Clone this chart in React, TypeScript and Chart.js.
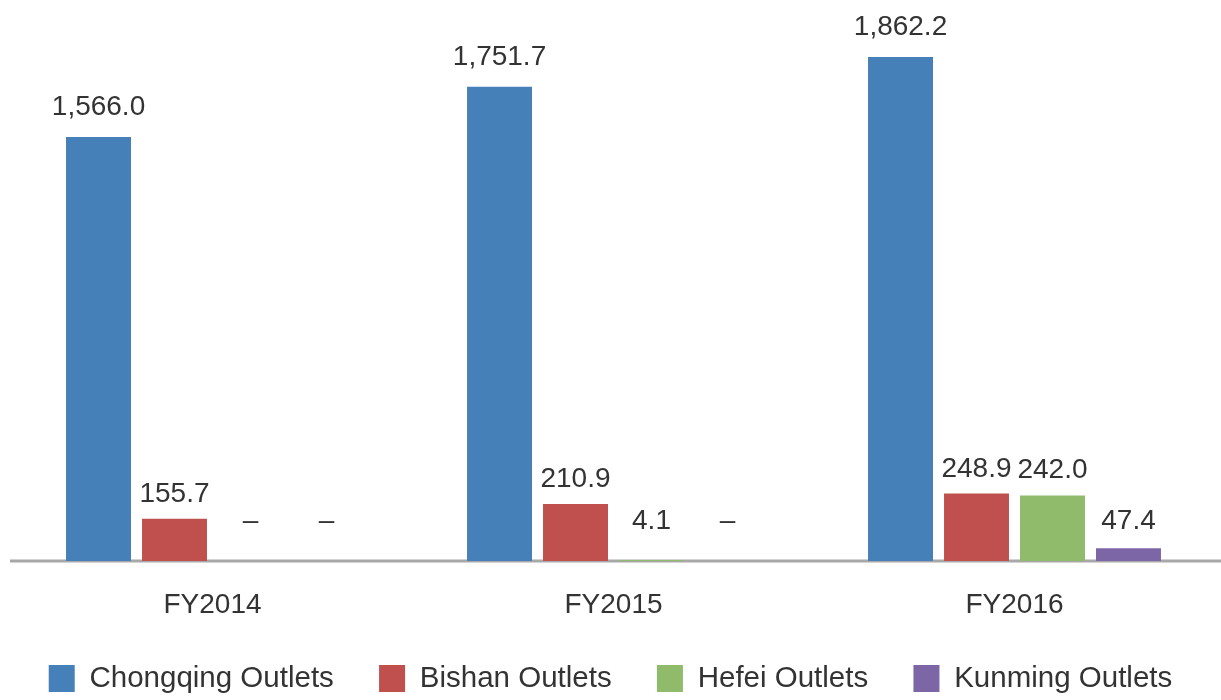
import React, { useEffect, useRef } from "react";
import { Chart, registerables } from "chart.js";

Chart.register(...registerables);

const categories = ["FY2014", "FY2015", "FY2016"];
const seriesNames = ["Chongqing Outlets", "Bishan Outlets", "Hefei Outlets", "Kunming Outlets"];
const chongqing: (number | null)[] = [1566.0, 1751.7, 1862.2];
const bishan: (number | null)[] = [155.7, 210.9, 248.9];
const hefei: (number | null)[] = [null, 4.1, 242.0];
const kunming: (number | null)[] = [null, null, 47.4];
const seriesColors = ["#4680B8", "#C0504D", "#8FBB6A", "#7C66A6"];

const FONT = "'Liberation Sans', Arial, Helvetica, sans-serif";
const TEXT_COLOR = "#333333";

const labelPlugin = {
  id: "valueLabels",
  beforeDatasetsDraw(chart: any) {
    const { ctx, chartArea } = chart;
    const yScale = chart.scales.y;
    const base = yScale.getPixelForValue(0);
    ctx.save();
    ctx.strokeStyle = "#A8A8A8";
    ctx.lineWidth = 3;
    ctx.beginPath();
    ctx.moveTo(chartArea.left - 2, base);
    ctx.lineTo(chart.width, base);
    ctx.stroke();
    ctx.restore();
  },
  afterDatasetsDraw(chart: any) {
    const { ctx } = chart;
    const yScale = chart.scales.y;
    const base = yScale.getPixelForValue(0);
    ctx.save();
    ctx.font = `28px ${FONT}`;
    ctx.fillStyle = TEXT_COLOR;
    ctx.textAlign = "center";
    ctx.textBaseline = "alphabetic";
    chart.data.datasets.forEach((ds: any, di: number) => {
      const meta = chart.getDatasetMeta(di);
      meta.data.forEach((el: any, i: number) => {
        const v = ds.data[i];
        if (v === null || v === undefined) {
          ctx.fillText("\u2013", el.x, base - 15 - 17);
        } else {
          const top = yScale.getPixelForValue(v);
          const txt = Number(v).toLocaleString("en-US", {
            minimumFractionDigits: 1,
            maximumFractionDigits: 1,
          });
          const gap = v > 1000 ? 22 : 17;
          ctx.fillText(txt, el.x, Math.min(top, base - 15) - gap);
        }
      });
    });
    ctx.restore();
  },
};

export default function App() {
  const ref = useRef<HTMLCanvasElement | null>(null);
  useEffect(() => {
    document.body.style.margin = "0";
    if (!ref.current) return;
    const seriesData = [chongqing, bishan, hefei, kunming];
    const chart = new Chart(ref.current, {
      type: "bar",
      data: {
        labels: categories,
        datasets: seriesNames.map((name, i) => ({
          label: name,
          data: seriesData[i],
          backgroundColor: seriesColors[i],
          borderWidth: 0,
          categoryPercentage: 0.758,
          barPercentage: 0.855,
        })),
      },
      options: {
        animation: false,
        responsive: false,
        devicePixelRatio: 1,
        layout: { padding: { top: 19.6, left: 0, right: 0, bottom: 0 } },
        scales: {
          x: {
            grid: { display: false, drawTicks: false },
            border: { display: false },
            ticks: {
              padding: 33.5,
              color: TEXT_COLOR,
              font: { family: FONT, size: 28, lineHeight: 0.75 },
            },
            afterFit: (scale: any) => {
              scale.height = 59.75 - 2.25;
            },
          },
          y: {
            position: "left",
            min: 0,
            max: 2000,
            grid: { display: false, drawTicks: false },
            border: { display: false },
            ticks: { display: false },
            afterFit: (scale: any) => {
              scale.width = 12;
            },
          },
          y2: {
            position: "right",
            min: 0,
            max: 2000,
            grid: { display: false, drawTicks: false },
            border: { display: false },
            ticks: { display: false },
            afterFit: (scale: any) => {
              scale.width = 6;
            },
          },
        },
        plugins: {
          legend: {
            position: "bottom",
            maxHeight: 700 - 561 - 57.5,
            labels: {
              boxWidth: 26,
              boxHeight: 27,
              padding: 45.25,
              color: TEXT_COLOR,
              font: { family: FONT, size: 29.5 },
            },
          },
          tooltip: { enabled: false },
        },
      },
      plugins: [labelPlugin],
    } as any);
    return () => chart.destroy();
  }, []);
  return (
    <div style={{ position: "fixed", left: 0, top: 0, width: 1221, height: 700, background: "#ffffff" }}>
      <canvas ref={ref} width={1221} height={700} />
    </div>
  );
}
